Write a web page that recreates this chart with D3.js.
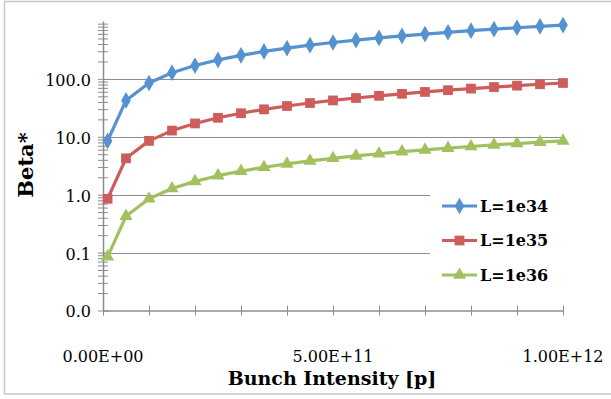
<!DOCTYPE html>
<html>
<head>
<meta charset="utf-8">
<script src="https://cdn.jsdelivr.net/npm/d3@7"></script>
<style>
  body { margin: 0; background: #fff; }
  text { font-family: "DejaVu Serif", serif; fill: #000; }
</style>
</head>
<body>
<div id="chart"></div>
<script>
const intensity = [1e10, 5e10, 1e11, 1.5e11, 2e11, 2.5e11, 3e11, 3.5e11, 4e11, 4.5e11, 5e11,
  5.5e11, 6e11, 6.5e11, 7e11, 7.5e11, 8e11, 8.5e11, 9e11, 9.5e11, 1e12];
const beta34 = [8.5, 42.5, 85, 128, 170, 213, 255, 298, 340, 383, 425, 468, 510, 553, 595, 638, 680, 723, 765, 808, 850];
const beta35 = [0.85, 4.25, 8.5, 12.8, 17, 21.3, 25.5, 29.8, 34, 38.3, 42.5, 46.8, 51, 55.3, 59.5, 63.8, 68, 72.3, 76.5, 80.8, 85];
const beta36 = [0.085, 0.425, 0.85, 1.28, 1.7, 2.13, 2.55, 2.98, 3.4, 3.83, 4.25, 4.68, 5.1, 5.53, 5.95, 6.38, 6.8, 7.23, 7.65, 8.08, 8.5];
const seriesNames = ['L=1e34', 'L=1e35', 'L=1e36'];
const yTickValues = [0.01, 0.1, 1, 10, 100];
const xTickLabels = [0, 5e11, 1e12];

const series = [
  { name: seriesNames[0], values: beta34, color: '#5592CF', symbol: d3.symbolDiamond, size: 80 },
  { name: seriesNames[1], values: beta35, color: '#CD5C5A', symbol: d3.symbolSquare, size: 95 },
  { name: seriesNames[2], values: beta36, color: '#A2C15E', symbol: d3.symbolTriangle, size: 75 }
];

const W = 611, H = 399;
const svg = d3.select('#chart').append('svg').attr('width', W).attr('height', H);

// chart border (cropped on the right)
svg.append('rect')
  .attr('x', 4.5).attr('y', 1.5).attr('width', 640).attr('height', 392.5)
  .attr('fill', 'none').attr('stroke', '#c8c8c8').attr('stroke-width', 1.5);

const x = d3.scaleLinear().domain([0, 1e12]).range([103, 563]);
const y = d3.scaleLog().domain([0.01, 1000]).range([310.5, 21]);

// gridlines
svg.append('g')
  .selectAll('line')
  .data(yTickValues.slice(1))
  .join('line')
  .attr('x1', x(0)).attr('x2', x(1e12))
  .attr('y1', (d) => Math.round(y(d)) + 0.5).attr('y2', (d) => Math.round(y(d)) + 0.5)
  .attr('stroke', '#8c8c8c').attr('stroke-width', 1);

// y axis: minor ticks
const minor = [];
for (let e = -2; e < 3; e++) for (let m = 2; m <= 9; m++) minor.push(m * Math.pow(10, e));
const yAxis = svg.append('g').attr('transform', `translate(${x(0)},0)`);
yAxis.call(d3.axisLeft(y).tickValues(minor).tickSize(5).tickFormat(''))
  .call((g) => g.select('.domain').remove());
yAxis.selectAll('.tick line').attr('x1', -5).attr('x2', 5).attr('stroke', '#8c8c8c');
const yMajor = svg.append('g').attr('transform', `translate(${x(0)},0)`);
yMajor.call(d3.axisLeft(y).tickValues(yTickValues).tickSize(0).tickPadding(12).tickFormat(d3.format('.1f')))
  .call((g) => g.select('.domain').attr('stroke', '#8c8c8c').attr('stroke-width', 1.5));
yMajor.selectAll('.tick line').attr('x1', -5).attr('x2', 5).attr('stroke', '#8c8c8c');
yMajor.selectAll('.tick text').style('font-size', '16px').attr('dy', '0.4em');

// x axis
const xAxis = svg.append('g').attr('transform', `translate(0,${y(0.01)})`);
xAxis.call(d3.axisBottom(x).ticks(10).tickSize(0).tickFormat(''))
  .call((g) => g.select('.domain').attr('stroke', '#8c8c8c').attr('stroke-width', 1.5));
xAxis.selectAll('.tick line').attr('y1', -5).attr('y2', 5).attr('stroke', '#8c8c8c');
svg.append('g')
  .selectAll('text')
  .data(xTickLabels)
  .join('text')
  .attr('x', (d) => x(d)).attr('y', 362)
  .attr('text-anchor', 'middle')
  .style('font-size', '16px')
  .text((d) => d3.format('.2e')(d).replace('e', 'E').replace(/E([+-])(\d)$/, 'E$10$2'));

// series
const line = d3.line().x((d, i) => x(intensity[i])).y((d) => y(d));
series.forEach((s) => {
  svg.append('path')
    .datum(s.values)
    .attr('d', line)
    .attr('fill', 'none').attr('stroke', s.color).attr('stroke-width', 3.2)
    .attr('stroke-linejoin', 'round');
  svg.append('g')
    .selectAll('path')
    .data(s.values)
    .join('path')
    .attr('transform', (d, i) => `translate(${x(intensity[i])},${y(d)})`)
    .attr('d', d3.symbol().type(s.symbol).size(s.size))
    .attr('fill', s.color);
});

// axis titles
svg.append('text')
  .attr('x', 332).attr('y', 385)
  .attr('text-anchor', 'middle')
  .style('font-size', '19px').style('font-weight', 'bold')
  .text('Bunch Intensity [p]');
svg.append('text')
  .attr('transform', 'translate(33,165) rotate(-90)')
  .attr('text-anchor', 'middle')
  .style('font-size', '21px').style('font-weight', 'bold')
  .text('Beta*');

// legend
const legend = svg.append('g');
legend.append('rect')
  .attr('x', 430).attr('y', 186).attr('width', 170).attr('height', 108)
  .attr('fill', '#fff');
series.forEach((s, i) => {
  const ly = 206 + i * 34.5;
  legend.append('line')
    .attr('x1', 442).attr('x2', 477).attr('y1', ly).attr('y2', ly)
    .attr('stroke', s.color).attr('stroke-width', 3.2);
  legend.append('path')
    .attr('transform', `translate(459.5,${ly})`)
    .attr('d', d3.symbol().type(s.symbol).size(s.size))
    .attr('fill', s.color);
  legend.append('text')
    .attr('x', 480).attr('y', ly).attr('dy', '0.36em')
    .style('font-size', '16px').style('font-weight', 'bold')
    .text(s.name);
});
</script>
</body>
</html>
